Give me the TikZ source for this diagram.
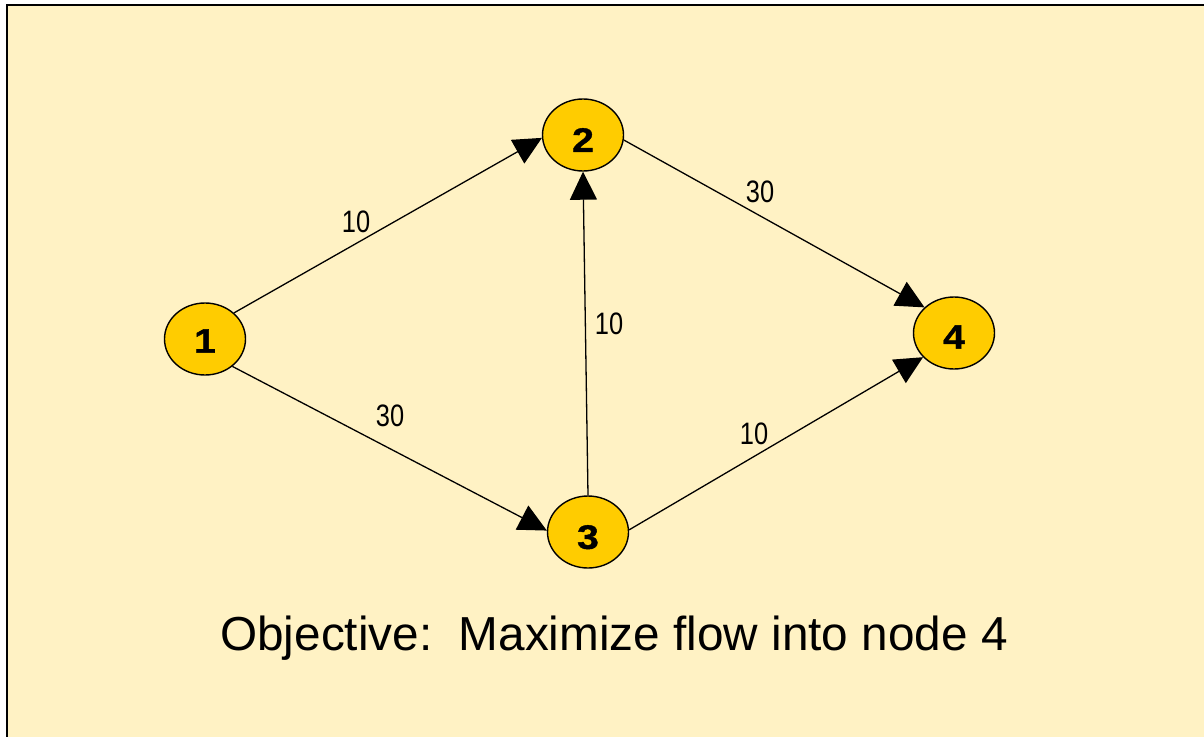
\documentclass[tikz,border=0pt]{standalone}
\usepackage{fontspec}
\setmainfont{Liberation Sans}
\newfontfamily\narrowfont[FakeStretch=0.82]{Liberation Sans}
\newfontfamily\widebold[FakeStretch=1.15,FakeBold=1.2]{Liberation Sans Bold}
\usetikzlibrary{shapes.geometric,arrows.meta}
\definecolor{bgyellow}{HTML}{FFF2C4}
\definecolor{nodegold}{HTML}{FFCC00}
\tikzset{
  vertex/.style={ellipse, draw=black, line width=1.4pt, fill=nodegold,
    minimum width=81pt, minimum height=72pt, inner sep=0pt,
    font=\widebold\fontsize{34}{34}\selectfont},
  edge/.style={line width=1.3pt, draw=black, -{Triangle[length=28pt,width=27pt]}},
  edgelabel/.style={font=\narrowfont\fontsize{31}{31}\selectfont, inner sep=0pt},
}
\newcommand{\lowdigit}[2]{\raisebox{-#1}[\height][0pt]{#2}}
\begin{document}
\begin{tikzpicture}[x=1pt,y=-1pt]
\useasboundingbox (0,0) rectangle (1204,736);
\fill[white] (0,0) rectangle (1204,736);
\filldraw[fill=bgyellow, draw=black, line width=2pt] (7,5) rectangle (1220,760);

\node[vertex] (n1) at (205,339) {\lowdigit{2pt}{1}};
\node[vertex] (n2) at (583,135) {\lowdigit{5pt}{2}};
\node[vertex] (n3) at (588,532) {\lowdigit{5pt}{3}};
\node[vertex] (n4) at (954,333) {\lowdigit{4pt}{4}};

\draw[edge] (n1.42) -- (n2.184);
\draw[edge] (n1.315) -- (n3.178);
\draw[edge] (n3.90) -- (n2.270);
\draw[edge] (n2.353) -- (n4.139);
\draw[edge] (n3.3) -- (n4.218);

\node[edgelabel] (c12) at (356,222) {10};
\node[edgelabel] (c24) at (760,192) {30};
\node[edgelabel] (c32) at (609,324) {10};
\node[edgelabel] (c13) at (390,416) {30};
\node[edgelabel] (c34) at (754,434) {10};

\node[font=\fontsize{47.7}{48}\selectfont, inner sep=0pt] (obj) at (614,638) {Objective:\ \ Maximize flow into node 4};
\end{tikzpicture}
\end{document}
